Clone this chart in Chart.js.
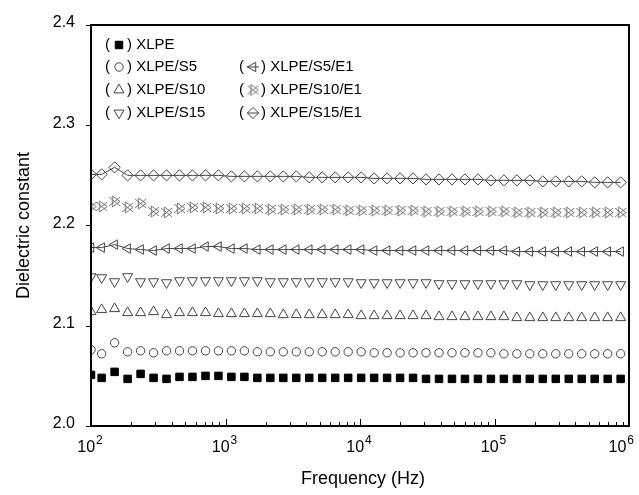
<!DOCTYPE html>
<html>
<head>
<meta charset="utf-8">
<script src="https://cdn.jsdelivr.net/npm/chart.js@4.4.1/dist/chart.umd.min.js"></script>
<style>
  html, body { margin: 0; padding: 0; background: #fff; }
</style>
</head>
<body>
<canvas id="dielChart" width="639" height="495"></canvas>
<script>
// Fréquences (Hz)
const frequences = [100, 120, 149.8, 187.1, 233.7, 291.8, 364.4, 455, 568, 710,
  886, 1106, 1382, 1725, 2154, 2690, 3359, 4195, 5238, 6541,
  8168, 10200, 12737, 15905, 19861, 24800, 30968, 38671, 48289, 60299,
  75296, 94024, 117410, 146612, 183077, 228612, 285472, 356474, 445138, 555852,
  694102, 866738];

const xlpe = [2.051, 2.048, 2.054, 2.047, 2.052, 2.048, 2.047, 2.049, 2.049, 2.050,
  2.050, 2.049, 2.049, 2.048, 2.048, 2.048, 2.048, 2.048, 2.048, 2.048,
  2.048, 2.048, 2.048, 2.048, 2.048, 2.048, 2.047, 2.047, 2.047, 2.047,
  2.047, 2.047, 2.047, 2.047, 2.047, 2.047, 2.047, 2.047, 2.047, 2.047,
  2.047, 2.047];
const xlpeS5 = [2.076, 2.072, 2.083, 2.074, 2.075, 2.073, 2.075, 2.075, 2.075, 2.075,
  2.075, 2.075, 2.075, 2.074, 2.074, 2.074, 2.074, 2.074, 2.074, 2.074,
  2.074, 2.074, 2.073, 2.073, 2.073, 2.073, 2.073, 2.073, 2.073, 2.073,
  2.073, 2.073, 2.072, 2.072, 2.072, 2.072, 2.072, 2.072, 2.072, 2.072,
  2.072, 2.072];
const xlpeS10 = [2.114, 2.116, 2.117, 2.113, 2.113, 2.114, 2.111, 2.113, 2.113, 2.113,
  2.112, 2.112, 2.112, 2.112, 2.112, 2.111, 2.111, 2.111, 2.111, 2.111,
  2.111, 2.110, 2.110, 2.110, 2.110, 2.110, 2.110, 2.109, 2.109, 2.109,
  2.109, 2.109, 2.109, 2.108, 2.108, 2.108, 2.108, 2.108, 2.108, 2.108,
  2.108, 2.108];
const xlpeS15 = [2.149, 2.148, 2.144, 2.149, 2.144, 2.144, 2.143, 2.145, 2.145, 2.145,
  2.145, 2.145, 2.145, 2.145, 2.144, 2.144, 2.144, 2.144, 2.144, 2.144,
  2.144, 2.143, 2.143, 2.143, 2.143, 2.143, 2.143, 2.142, 2.142, 2.142,
  2.142, 2.142, 2.142, 2.142, 2.141, 2.141, 2.141, 2.141, 2.141, 2.141,
  2.141, 2.141];
const xlpeS5E1 = [2.178, 2.178, 2.181, 2.177, 2.176, 2.175, 2.177, 2.177, 2.177, 2.179,
  2.179, 2.177, 2.177, 2.176, 2.176, 2.176, 2.176, 2.176, 2.176, 2.176,
  2.176, 2.176, 2.175, 2.175, 2.175, 2.175, 2.175, 2.175, 2.175, 2.175,
  2.175, 2.175, 2.175, 2.174, 2.174, 2.174, 2.174, 2.174, 2.174, 2.174,
  2.174, 2.174];
const xlpeS10E1 = [2.219, 2.219, 2.224, 2.218, 2.222, 2.214, 2.213, 2.217, 2.218, 2.218,
  2.217, 2.217, 2.217, 2.217, 2.216, 2.216, 2.216, 2.216, 2.216, 2.216,
  2.215, 2.215, 2.215, 2.215, 2.215, 2.215, 2.214, 2.214, 2.214, 2.214,
  2.214, 2.214, 2.214, 2.213, 2.213, 2.213, 2.213, 2.213, 2.213, 2.213,
  2.213, 2.213];
const xlpeS15E1 = [2.251, 2.251, 2.258, 2.250, 2.250, 2.250, 2.250, 2.250, 2.250, 2.250,
  2.250, 2.249, 2.249, 2.249, 2.249, 2.249, 2.249, 2.248, 2.248, 2.248,
  2.248, 2.248, 2.247, 2.247, 2.247, 2.247, 2.246, 2.246, 2.246, 2.246,
  2.246, 2.245, 2.245, 2.245, 2.245, 2.244, 2.244, 2.244, 2.244, 2.243,
  2.243, 2.243];

const yTicks = [2.0, 2.1, 2.2, 2.3, 2.4];
const xDecades = [2, 3, 4, 5, 6];
const xTitle = 'Frequency (Hz)';
const yTitle = 'Dielectric constant';

const GRIS = '#444';

// marqueur "nœud papillon" (XLPE/S10/E1)
function makeBowtie(size, color) {
    const c = document.createElement('canvas');
    c.width = size; c.height = size;
    const g = c.getContext('2d');
    const m = size / 2, r = size / 2 - 1;
    g.strokeStyle = color;
    g.lineWidth = 0.8;
    g.beginPath();
    g.moveTo(m - r * 0.4, m - r); g.lineTo(m + r, m); g.lineTo(m - r * 0.4, m + r); g.closePath();
    g.moveTo(m - r, m - r * 0.8); g.lineTo(m + r, m + r * 0.8);
    g.moveTo(m - r, m + r * 0.8); g.lineTo(m + r, m - r * 0.8);
    g.stroke();
    return c;
}
const bowtie = makeBowtie(13, '#555');

const series = [
    { label: 'XLPE', data: xlpe, style: 'rect', rot: 0, r: 5.3, fill: '#000', color: '#000', line: false, col: 0, row: 0 },
    { label: 'XLPE/S5', data: xlpeS5, style: 'circle', rot: 0, r: 4.2, fill: 'rgba(0,0,0,0)', color: GRIS, line: false, col: 0, row: 1 },
    { label: 'XLPE/S10', data: xlpeS10, style: 'triangle', rot: 0, r: 5.8, fill: 'rgba(0,0,0,0)', color: GRIS, line: false, col: 0, row: 2 },
    { label: 'XLPE/S15', data: xlpeS15, style: 'triangle', rot: 180, r: 5.8, fill: 'rgba(0,0,0,0)', color: GRIS, line: false, col: 0, row: 3 },
    { label: 'XLPE/S5/E1', data: xlpeS5E1, style: 'triangle', rot: -90, r: 5.5, fill: 'rgba(0,0,0,0)', color: GRIS, line: true, col: 1, row: 1 },
    { label: 'XLPE/S10/E1', data: xlpeS10E1, style: bowtie, rot: 0, r: 6, fill: 'rgba(0,0,0,0)', color: GRIS, line: false, col: 1, row: 2 },
    { label: 'XLPE/S15/E1', data: xlpeS15E1, style: 'rectRot', rot: 0, r: 5.6, fill: 'rgba(0,0,0,0)', color: GRIS, line: true, col: 1, row: 3 }
];

const datasets = series.map(s => ({
    label: s.label,
    data: s.data.map((v, i) => ({ x: frequences[i], y: v })),
    showLine: s.line,
    borderColor: s.color,
    borderWidth: 1,
    pointStyle: s.style,
    rotation: s.rot,
    pointRadius: s.r,
    pointBorderWidth: 1,
    pointBorderColor: s.color,
    pointBackgroundColor: s.fill,
    clip: 0
}));

function drawMarker(ctx, s, x, y) {
    ctx.save();
    ctx.fillStyle = s.fill;
    ctx.strokeStyle = s.color;
    ctx.lineWidth = 1;
    if (Chart.helpers && Chart.helpers.drawPoint) {
        Chart.helpers.drawPoint(ctx, { pointStyle: s.style, rotation: s.rot, radius: s.r, borderWidth: 1 }, x, y);
    }
    if (s.line) {
        ctx.beginPath();
        ctx.moveTo(x - 6, y); ctx.lineTo(x + 6, y);
        ctx.stroke();
    }
    ctx.restore();
}

const decorPlugin = {
    id: 'decor',
    afterDraw(chart) {
        const { ctx, chartArea: a, scales } = chart;
        const xs = scales.x, ys = scales.y;
        ctx.save();
        ctx.strokeStyle = '#000';
        ctx.fillStyle = '#000';

        // cadre
        ctx.lineWidth = 2;
        ctx.strokeRect(a.left, a.top, a.right - a.left, a.bottom - a.top);

        // graduations x (vers l'intérieur)
        ctx.lineWidth = 1;
        ctx.beginPath();
        xDecades.forEach(d => {
            const px = Math.round(xs.getPixelForValue(Math.pow(10, d))) + 0.5;
            ctx.moveTo(px, a.bottom); ctx.lineTo(px, a.bottom - 7);
            if (d < xDecades[xDecades.length - 1]) {
                for (let k = 2; k <= 9; k++) {
                    const pm = Math.round(xs.getPixelForValue(k * Math.pow(10, d))) + 0.5;
                    ctx.moveTo(pm, a.bottom); ctx.lineTo(pm, a.bottom - 4);
                }
            }
        });
        // graduations y (vers l'extérieur)
        yTicks.forEach(v => {
            const py = Math.round(ys.getPixelForValue(v)) + 0.5;
            ctx.moveTo(a.left, py); ctx.lineTo(a.left - 5, py);
        });
        ctx.stroke();

        // étiquettes y
        ctx.font = '16px Arial';
        ctx.textAlign = 'right';
        ctx.textBaseline = 'middle';
        yTicks.forEach(v => {
            ctx.fillText(v.toFixed(1), a.left - 16, ys.getPixelForValue(v) - 2);
        });

        // étiquettes x : 10^n
        ctx.textBaseline = 'alphabetic';
        ctx.textAlign = 'left';
        xDecades.forEach(d => {
            const px = xs.getPixelForValue(Math.pow(10, d));
            ctx.font = '16px Arial';
            const wb = ctx.measureText('10').width;
            ctx.font = '12px Arial';
            const we = ctx.measureText(String(d)).width;
            const total = wb + we + 1;
            const x0 = Math.min(px - total / 2 - 1, chart.width - 5 - total);
            ctx.font = '16px Arial';
            ctx.fillText('10', x0, a.bottom + 26);
            ctx.font = '12px Arial';
            ctx.fillText(String(d), x0 + wb + 1, a.bottom + 18);
        });

        // titres
        ctx.font = '18px Arial';
        ctx.textAlign = 'center';
        ctx.fillText(xTitle, (a.left + a.right) / 2 + 3, 484);
        ctx.save();
        ctx.translate(29, (a.top + a.bottom) / 2);
        ctx.rotate(-Math.PI / 2);
        ctx.fillText(yTitle, 0, 0);
        ctx.restore();

        // légende
        ctx.font = '15px Arial';
        ctx.textAlign = 'left';
        ctx.textBaseline = 'middle';
        const rowsY = [45, 67, 90, 113];
        const colsX = [105, 239];
        series.forEach(s => {
            const x = colsX[s.col], y = rowsY[s.row];
            ctx.fillStyle = '#000';
            ctx.fillText('(', x, y);
            drawMarker(ctx, s, x + 14, y);
            ctx.fillStyle = '#000';
            ctx.fillText(') ' + s.label, x + 22, y);
        });
        ctx.restore();
    }
};

new Chart(document.getElementById('dielChart').getContext('2d'), {
    type: 'scatter',
    data: { datasets: datasets },
    options: {
        responsive: false,
        animation: false,
        devicePixelRatio: 1,
        layout: { padding: { top: 25, right: 10, left: 0, bottom: 0 } },
        plugins: { legend: { display: false }, tooltip: { enabled: false } },
        scales: {
            x: {
                type: 'logarithmic', min: 100, max: 1e6,
                grid: { display: false }, border: { display: false },
                ticks: { display: false },
                afterFit: (s) => { s.height = 69; }
            },
            y: {
                min: 2.0, max: 2.4,
                grid: { display: false }, border: { display: false },
                ticks: { display: false },
                afterFit: (s) => { s.width = 91; }
            }
        }
    },
    plugins: [decorPlugin]
});
</script>
</body>
</html>
